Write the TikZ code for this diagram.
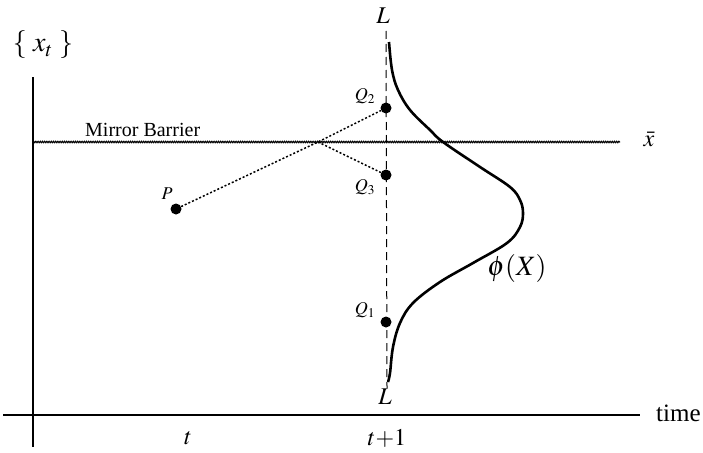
\documentclass[tikz,border=0pt]{standalone}
\usepackage{mathptmx}
\usepackage{fontspec}
\setmainfont{Liberation Serif}
\usetikzlibrary{decorations.pathmorphing}

\tikzset{
    dot/.style={circle, fill, inner sep=0pt, minimum size=11pt},
    axis/.style={line width=1.6pt},
    barrier/.style={line width=1.1pt, decorate, decoration={snake, amplitude=0.7pt, segment length=2.2pt}},
    path/.style={line width=1.5pt, dash pattern=on 2pt off 2pt},
    lbl/.style={inner sep=1pt, font=\fontsize{18}{20}\selectfont},
    biglbl/.style={inner sep=1pt, font=\fontsize{24}{26}\selectfont}
}

\begin{document}
\begin{tikzpicture}[x=1pt, y=-1pt]
    \useasboundingbox (0,0) rectangle (703,452);

    % axes
    \draw[axis] (33,77) -- (33,447);
    \draw[axis] (3,415) -- (640,415);
    \node[font=\fontsize{28}{30}\selectfont] (xt) at (43,45) {$\{\;x_{t}\;\}$};
    \node[font=\fontsize{25}{27}\selectfont, anchor=west, inner sep=1pt] (time) at (655,413) {time};
    \node[biglbl] (t) at (188,438) {$t$};
    \node[biglbl] (t1) at (387,438) {$t{+}1$};

    % mirror barrier
    \draw[barrier] (33,142) -- (620,142);
    \node[inner sep=1pt, font=\fontsize{20}{22}\selectfont, anchor=south west] (mb) at (84,138) {Mirror Barrier};
    \node[biglbl] (xbar) at (649,139) {$\bar{x}$};

    % line L at t+1
    \node[biglbl] (Ltop) at (383,16) {$L$};
    \node[biglbl] (Lbot) at (385,397) {$L$};
    \draw[line width=1pt, dash pattern=on 8pt off 5pt] (386,31) -- ([xshift=2pt]Lbot.north);

    % density phi(X)
    \draw[line width=2.6pt] plot[smooth, tension=0.6] coordinates {
        (389,42) (392,70) (398,90) (410,110) (430,130) (443,142) (480,167)
        (510,187) (520,200) (523,213) (520,227) (507,243) (473,263)
        (440,282) (413,303) (400,323) (393,347) (390,373) (388,382)};
    \node[font=\fontsize{28}{30}\selectfont] (phi) at (517,268) {$\phi(X)$};

    % points
    \node[dot] (P) at (176,209) {};
    \node[lbl] at (167,194) {$P$};
    \node[dot] (Q2) at (386,108) {};
    \node[lbl] at (365,96) {$Q_2$};
    \node[dot] (Q3) at (386,175) {};
    \node[lbl] at (365,187) {$Q_3$};
    \node[dot] (Q1) at (386,322) {};
    \node[lbl] at (365,310) {$Q_1$};
    \coordinate (M) at (318,142);

    \draw[path] (P) -- (M) -- (Q2);
    \draw[path] (M) -- (Q3);
\end{tikzpicture}
\end{document}
